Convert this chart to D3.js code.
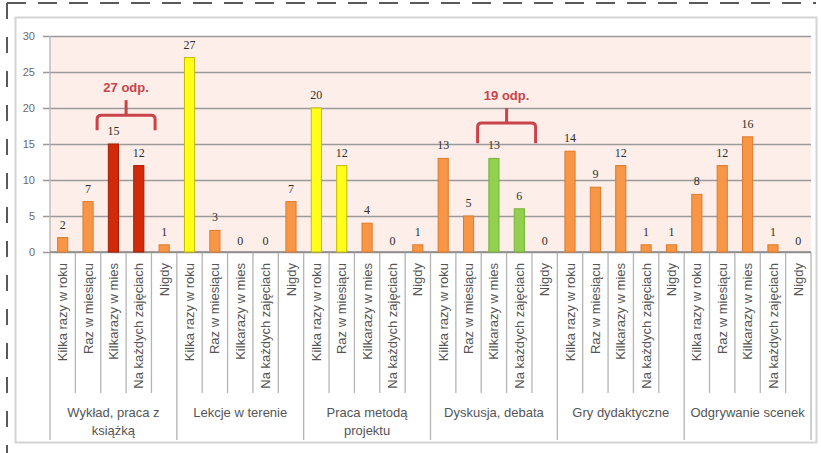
<!DOCTYPE html>
<html>
<head>
<meta charset="utf-8">
<script src="https://cdn.jsdelivr.net/npm/d3@7/dist/d3.min.js"></script>
<style>
  html, body { margin: 0; padding: 0; background: #ffffff; }
  svg { display: block; }
</style>
</head>
<body>
<svg id="chart" width="821" height="453"></svg>
<script>
// Answer options (repeated in every group)
const frequencies = ["Kilka razy w roku", "Raz w miesiącu", "Kilkarazy w mies", "Na każdych zajęciach", "Nigdy"];

// Teaching methods (groups along the x axis)
const methods = [
  ["Wykład, praca z", "książką"],
  ["Lekcje w terenie"],
  ["Praca metodą", "projektu"],
  ["Dyskusja, debata"],
  ["Gry dydaktyczne"],
  ["Odgrywanie scenek"]
];

// Number of answers for each method, one row per method in frequency order
const wykladValues   = [2, 7, 15, 12, 1];
const lekcjeValues   = [27, 3, 0, 0, 7];
const projektValues  = [20, 12, 4, 0, 1];
const dyskusjaValues = [13, 5, 13, 6, 0];
const gryValues      = [14, 9, 12, 1, 1];
const scenkiValues   = [8, 12, 16, 1, 0];

// Highlight group of each bar (same order as the values above)
const highlight = [
  "base", "base", "red", "red", "base",
  "yellow", "base", "base", "base", "base",
  "yellow", "yellow", "base", "base", "base",
  "base", "base", "green", "green", "base",
  "base", "base", "base", "base", "base",
  "base", "base", "base", "base", "base"
];

// Callouts summing two neighbouring bars
const callouts = [
  { label: "27 odp.", first: 2,  last: 3 },
  { label: "19 odp.", first: 17, last: 18 }
];

const yTicks = [0, 5, 10, 15, 20, 25, 30];

const allValues = [wykladValues, lekcjeValues, projektValues, dyskusjaValues, gryValues, scenkiValues];
const bars = [];
allValues.forEach((vals, g) => vals.forEach((v, k) => {
  bars.push({ index: g * 5 + k, group: g, label: frequencies[k], value: v, kind: highlight[g * 5 + k] });
}));

const fills   = { base: "#f79646", red: "#d02a0a", yellow: "#ffff1a", green: "#92d050" };
const strokes = { base: "#e07a2a", red: "#a81c04", yellow: "#c9b800", green: "#76b33a" };

const svg = d3.select("#chart");

const plotLeft = 50, plotRight = 811, plotTop = 36, plotBottom = 252;

const slot = d3.scaleBand().domain(d3.range(bars.length)).range([plotLeft, plotRight]);
const x = d3.scaleBand().domain(d3.range(bars.length)).range([plotLeft, plotRight]).paddingInner(0.6).paddingOuter(0.3);
const y = d3.scaleLinear().domain([0, 30]).range([plotBottom, plotTop]);

// Dashed outline of the figure
svg.append("path")
  .attr("d", "M7,3 H816")
  .attr("stroke", "#5a5a5a").attr("stroke-width", 2)
  .attr("stroke-dasharray", "19,12").attr("fill", "none");
svg.append("path")
  .attr("d", "M7,3 V453")
  .attr("stroke", "#5a5a5a").attr("stroke-width", 2)
  .attr("stroke-dasharray", "16,18").attr("fill", "none");

// Chart frame
svg.append("rect")
  .attr("x", 15.5).attr("y", 17.5).attr("width", 801).attr("height", 425)
  .attr("fill", "#ffffff").attr("stroke", "#d4d4d4").attr("stroke-width", 2);

// Plot background
svg.append("rect")
  .attr("x", plotLeft).attr("y", plotTop).attr("width", plotRight - plotLeft).attr("height", plotBottom - plotTop)
  .attr("fill", "#fdeee9");

// Horizontal gridlines and y labels
const yAxis = svg.append("g")
  .attr("transform", `translate(${plotLeft - 7},0)`)
  .call(d3.axisLeft(y).tickValues(yTicks).tickSize(-(plotRight - plotLeft + 7)).tickPadding(8));
yAxis.select(".domain").remove();
yAxis.selectAll(".tick line").attr("stroke", "#9a9a9a").attr("stroke-width", 1.5);
yAxis.selectAll(".tick text")
  .attr("fill", "#6a6a6a").attr("font-family", "Liberation Sans, Arial, sans-serif").attr("font-size", 11);

// Vertical axis line and category separators below the plot
const boundaries = d3.range(bars.length + 1);
svg.append("g").selectAll("line").data(boundaries).join("line")
  .attr("x1", i => i === bars.length ? plotRight : slot(i))
  .attr("x2", i => i === bars.length ? plotRight : slot(i))
  .attr("y1", i => i === 0 ? plotTop : plotBottom)
  .attr("y2", i => (i % 5 === 0) ? 440 : 393)
  .attr("stroke", "#b4b4b4").attr("stroke-width", 1.3);

// Category axis line
svg.append("line")
  .attr("x1", plotLeft).attr("x2", plotRight).attr("y1", plotBottom).attr("y2", plotBottom)
  .attr("stroke", "#8a8a8a").attr("stroke-width", 1.5);

// Bars
svg.append("g").selectAll("rect").data(bars).join("rect")
  .attr("x", d => x(d.index))
  .attr("y", d => y(d.value))
  .attr("width", x.bandwidth())
  .attr("height", d => y(0) - y(d.value))
  .attr("fill", d => fills[d.kind])
  .attr("stroke", d => strokes[d.kind])
  .attr("stroke-width", 1);

// Value labels
svg.append("g").selectAll("text").data(bars).join("text")
  .attr("x", d => x(d.index) + x.bandwidth() / 2)
  .attr("y", d => y(d.value) - (d.value === 0 ? 7 : 9))
  .attr("text-anchor", "middle")
  .attr("font-family", "Liberation Serif, Times New Roman, serif")
  .attr("font-size", 12)
  .attr("fill", "#2e2e2e")
  .text(d => d.value);

// Rotated category labels
svg.append("g").selectAll("text").data(bars).join("text")
  .attr("transform", d => `translate(${slot(d.index) + slot.bandwidth() / 2},263) rotate(-90)`)
  .attr("dy", "0.35em")
  .attr("text-anchor", "end")
  .attr("font-family", "Liberation Sans, Arial, sans-serif")
  .attr("font-size", 13)
  .attr("fill", "#555555")
  .text(d => d.label);

// Group labels
const groupLabels = svg.append("g").selectAll("text").data(methods).join("text")
  .attr("x", (d, g) => slot(g * 5) + slot.step() * 2.5)
  .attr("y", 417)
  .attr("text-anchor", "middle")
  .attr("font-family", "Liberation Sans, Arial, sans-serif")
  .attr("font-size", 13)
  .attr("fill", "#555555");
groupLabels.each(function (lines) {
  const t = d3.select(this);
  const cx = t.attr("x");
  lines.forEach((line, i) => {
    t.append("tspan").attr("x", cx).attr("dy", i === 0 ? 0 : 18).text(line);
  });
});

// Callouts: brace over two bars with their total
const calloutColor = "#c9434a";
const calloutY = [{ text: 22.2, bar: 19, foot: 16.9 }, { text: 21.1, bar: 17.9, foot: 15.1 }];
callouts.forEach((c, i) => {
  const cx = (x(c.first) + x(c.last) + x.bandwidth()) / 2;
  const half = 29;
  const yt = y(calloutY[i].text), yb = y(calloutY[i].bar), yf = y(calloutY[i].foot);
  const r = 4;
  const g = svg.append("g");
  g.append("path")
    .attr("d", `M${cx - half},${yf} V${yb + r} Q${cx - half},${yb} ${cx - half + r},${yb} H${cx + half - r} Q${cx + half},${yb} ${cx + half},${yb + r} V${yf}`)
    .attr("fill", "none").attr("stroke", calloutColor).attr("stroke-width", 3).attr("stroke-linejoin", "round");
  g.append("line")
    .attr("x1", cx).attr("x2", cx).attr("y1", yt + 8).attr("y2", yb)
    .attr("stroke", calloutColor).attr("stroke-width", 3);
  g.append("text")
    .attr("x", cx).attr("y", yt)
    .attr("text-anchor", "middle")
    .attr("font-family", "Liberation Sans, Arial, sans-serif")
    .attr("font-weight", "bold")
    .attr("font-size", 13)
    .attr("fill", calloutColor)
    .text(c.label);
});
</script>
</body>
</html>
